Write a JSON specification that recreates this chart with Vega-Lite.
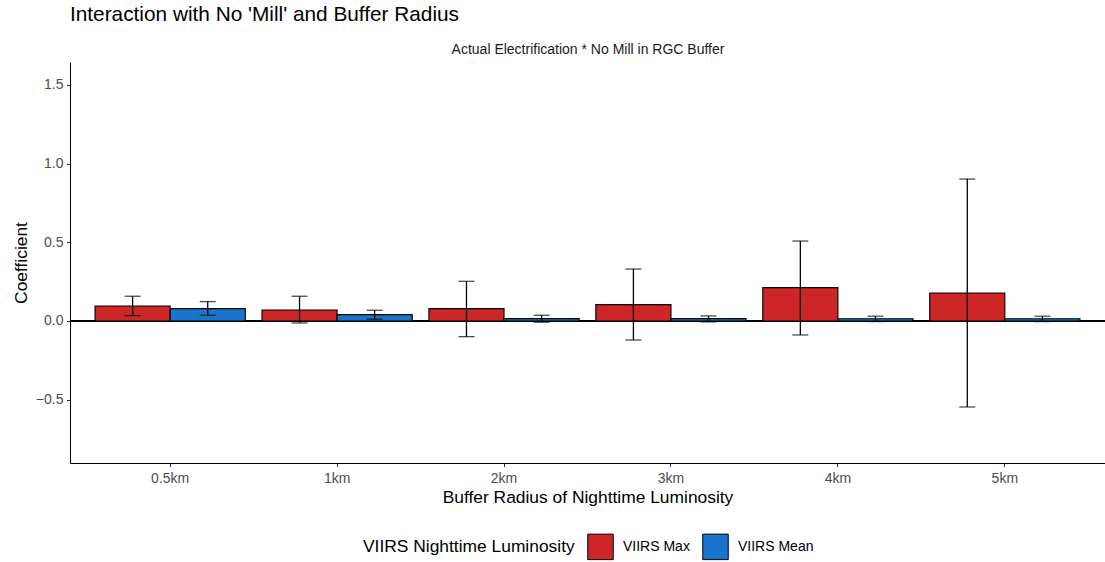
{
  "$schema": "https://vega.github.io/schema/vega-lite/v6.json",
  "width": 1035,
  "height": 401,
  "autosize": {"type": "none"},
  "padding": {"left": 70, "top": 62, "right": 0, "bottom": 99},
  "background": "white",
  "config": {
    "font": "Liberation Sans",
    "view": {"stroke": null},
    "axis": {"grid": false}
  },
  "title": {
    "text": "Interaction with No 'Mill' and Buffer Radius",
    "anchor": "start",
    "frame": "group",
    "fontSize": 20.8,
    "fontWeight": "normal",
    "color": "black",
    "offset": 16
  },
  "data": {
    "values": [
      {"radius": "0.5km", "measure": "VIIRS Max", "coef": 0.095, "lo": 0.034, "hi": 0.157},
      {"radius": "0.5km", "measure": "VIIRS Mean", "coef": 0.078, "lo": 0.036, "hi": 0.123},
      {"radius": "1km", "measure": "VIIRS Max", "coef": 0.070, "lo": -0.013, "hi": 0.157},
      {"radius": "1km", "measure": "VIIRS Mean", "coef": 0.040, "lo": 0.011, "hi": 0.068},
      {"radius": "2km", "measure": "VIIRS Max", "coef": 0.078, "lo": -0.100, "hi": 0.252},
      {"radius": "2km", "measure": "VIIRS Mean", "coef": 0.015, "lo": -0.008, "hi": 0.036},
      {"radius": "3km", "measure": "VIIRS Max", "coef": 0.104, "lo": -0.121, "hi": 0.330},
      {"radius": "3km", "measure": "VIIRS Mean", "coef": 0.015, "lo": -0.006, "hi": 0.032},
      {"radius": "4km", "measure": "VIIRS Max", "coef": 0.212, "lo": -0.089, "hi": 0.508},
      {"radius": "4km", "measure": "VIIRS Mean", "coef": 0.014, "lo": -0.004, "hi": 0.030},
      {"radius": "5km", "measure": "VIIRS Max", "coef": 0.178, "lo": -0.547, "hi": 0.902},
      {"radius": "5km", "measure": "VIIRS Mean", "coef": 0.014, "lo": -0.004, "hi": 0.030}
    ]
  },
  "layer": [
    {
      "mark": {"type": "rule", "color": "black", "strokeWidth": 0.7},
      "encoding": {"y": {"datum": 0, "type": "quantitative"}}
    },
    {
      "mark": {"type": "bar", "stroke": "black", "strokeWidth": 1.1},
      "encoding": {
        "x": {
          "field": "radius",
          "type": "nominal",
          "sort": ["0.5km", "1km", "2km", "3km", "4km", "5km"],
          "scale": {"paddingInner": 0.1, "paddingOuter": 0.15},
          "axis": {
            "orient": "bottom",
            "title": "Buffer Radius of Nighttime Luminosity",
            "labelAngle": 0,
            "labelFontSize": 14,
            "labelColor": "#4D4D4D",
            "labelPadding": 5,
            "tickSize": 3.5,
            "tickColor": "#333333",
            "tickWidth": 1,
            "domainColor": "black",
            "domainWidth": 1,
            "titleFontSize": 17.4,
            "titleFontWeight": "normal",
            "titleColor": "black",
            "titlePadding": 3
          }
        },
        "xOffset": {
          "field": "measure",
          "type": "nominal",
          "sort": ["VIIRS Max", "VIIRS Mean"],
          "scale": {"paddingInner": 0, "paddingOuter": 0}
        },
        "y": {
          "field": "coef",
          "type": "quantitative",
          "scale": {"domain": [-0.903, 1.646], "nice": false, "zero": false},
          "axis": {
            "title": "Coefficient",
            "values": [-0.5, 0, 0.5, 1, 1.5],
            "labelExpr": "datum.value < 0 ? '\u2212' + format(-datum.value, '.1f') : format(datum.value, '.1f')",
            "labelFontSize": 14,
            "labelColor": "#4D4D4D",
            "labelPadding": 3.5,
            "tickSize": 3.5,
            "tickColor": "#333333",
            "tickWidth": 1,
            "domainColor": "black",
            "domainWidth": 1,
            "titleFontSize": 17.4,
            "titleFontWeight": "normal",
            "titleColor": "black",
            "titlePadding": 5
          }
        },
        "color": {
          "field": "measure",
          "type": "nominal",
          "scale": {"domain": ["VIIRS Max", "VIIRS Mean"], "range": ["#CD2626", "#1874CD"]},
          "legend": {
            "title": "VIIRS Nighttime Luminosity",
            "orient": "none",
            "direction": "horizontal",
            "legendX": 293,
            "legendY": 471,
            "titleOrient": "left",
            "titleFontSize": 17.4,
            "titleFontWeight": "normal",
            "titleColor": "black",
            "titlePadding": 12,
            "titleBaseline": "middle",
            "titleLimit": 500,
            "labelLimit": 300,
            "labelFontSize": 14,
            "labelColor": "black",
            "labelOffset": 9,
            "columnPadding": 10,
            "symbolType": "square",
            "symbolSize": 650,
            "symbolStrokeColor": "black",
            "symbolStrokeWidth": 1,
            "symbolOpacity": 1
          }
        }
      }
    },
    {
      "mark": {"type": "rule", "color": "black", "strokeWidth": 1.3},
      "encoding": {
        "x": {
          "field": "radius",
          "type": "nominal",
          "sort": ["0.5km", "1km", "2km", "3km", "4km", "5km"],
          "axis": {
            "orient": "top",
            "title": "Actual Electrification * No Mill in RGC Buffer",
            "labels": false,
            "ticks": false,
            "domain": false,
            "titleFontSize": 14,
            "titleFontWeight": "normal",
            "titleColor": "#1A1A1A",
            "titlePadding": 6
          }
        },
        "xOffset": {"field": "measure", "type": "nominal", "sort": ["VIIRS Max", "VIIRS Mean"]},
        "y": {"field": "lo", "type": "quantitative"},
        "y2": {"field": "hi"}
      }
    },
    {
      "mark": {"type": "tick", "color": "black", "thickness": 1.3, "size": 16},
      "encoding": {
        "x": {"field": "radius", "type": "nominal", "sort": ["0.5km", "1km", "2km", "3km", "4km", "5km"], "axis": null},
        "xOffset": {"field": "measure", "type": "nominal", "sort": ["VIIRS Max", "VIIRS Mean"]},
        "y": {"field": "lo", "type": "quantitative"}
      }
    },
    {
      "mark": {"type": "tick", "color": "black", "thickness": 1.3, "size": 16},
      "encoding": {
        "x": {"field": "radius", "type": "nominal", "sort": ["0.5km", "1km", "2km", "3km", "4km", "5km"], "axis": null},
        "xOffset": {"field": "measure", "type": "nominal", "sort": ["VIIRS Max", "VIIRS Mean"]},
        "y": {"field": "hi", "type": "quantitative"}
      }
    }
  ],
  "resolve": {"axis": {"x": "independent"}}
}
